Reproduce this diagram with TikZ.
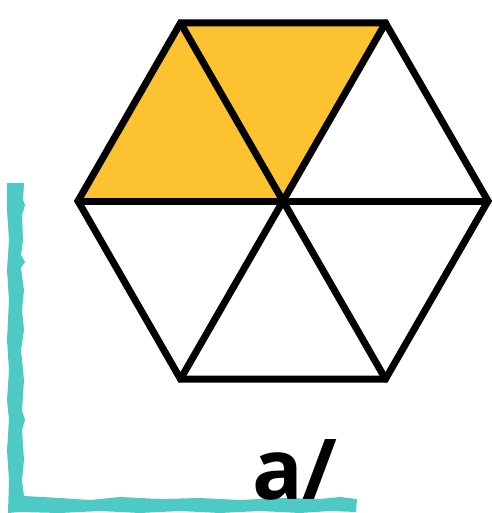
\documentclass[tikz,border=0pt]{standalone}
\usepackage{fontspec}
\newfontfamily\labelfont{Open Sans}
\definecolor{hexfill}{HTML}{FDC22F}
\definecolor{brush}{HTML}{4ECAC6}
\tikzset{
  hexline/.style={line width=7pt, line join=miter, line cap=round, black},
  brushstroke/.style={fill=brush, draw=none},
  biglabel/.style={font=\labelfont\bfseries\fontsize{84}{84}\selectfont, inner sep=0pt, anchor=base west}
}
\begin{document}
\begin{tikzpicture}[x=1pt,y=-1pt]
\useasboundingbox (0,0) rectangle (491,513);
% hexagon vertices
\coordinate (C) at (283,201);
\coordinate (L) at (78,201);
\coordinate (R) at (488,201);
\coordinate (TL) at (180.5,23);
\coordinate (TR) at (385.5,23);
\coordinate (BL) at (180.5,379);
\coordinate (BR) at (385.5,379);
% filled triangles
\fill[hexfill] (L) -- (TL) -- (C) -- cycle;
\fill[hexfill] (TL) -- (TR) -- (C) -- cycle;
% outline
\draw[hexline] (L) -- (TL) -- (TR) -- (R) -- (BR) -- (BL) -- cycle;
\draw[hexline] (L) -- (R);
\draw[hexline] (TL) -- (BR);
\draw[hexline] (TR) -- (BL);
% brush L
\fill[brushstroke] (7,183) -- (24,183) -- (23,200) -- (25,205) -- (22,215) -- (23,240) -- (21,255) -- (25,262) -- (21,268) -- (24,290) -- (22,310) -- (24,330) -- (21,350) -- (24,380) -- (22,410) -- (25,420) -- (22,430) -- (24,460) -- (22,480) -- (24,496)
  -- (60,498) -- (90,500) -- (120,497) -- (160,499) -- (200,498) -- (240,500) -- (280,498) -- (320,499) -- (340,497) -- (357,499)
  -- (356,512) -- (330,511) -- (300,513) -- (260,511) -- (220,513) -- (180,511) -- (140,513) -- (100,511) -- (60,513) -- (20,512) -- (8,513)
  -- (9,480) -- (7,450) -- (9,420) -- (7,400) -- (9,370) -- (7,340) -- (9,300) -- (7,270) -- (9,240) -- (7,210) -- cycle;
% label
\node[biglabel] (lbl) at (252,499) {a/};
\end{tikzpicture}
\end{document}
